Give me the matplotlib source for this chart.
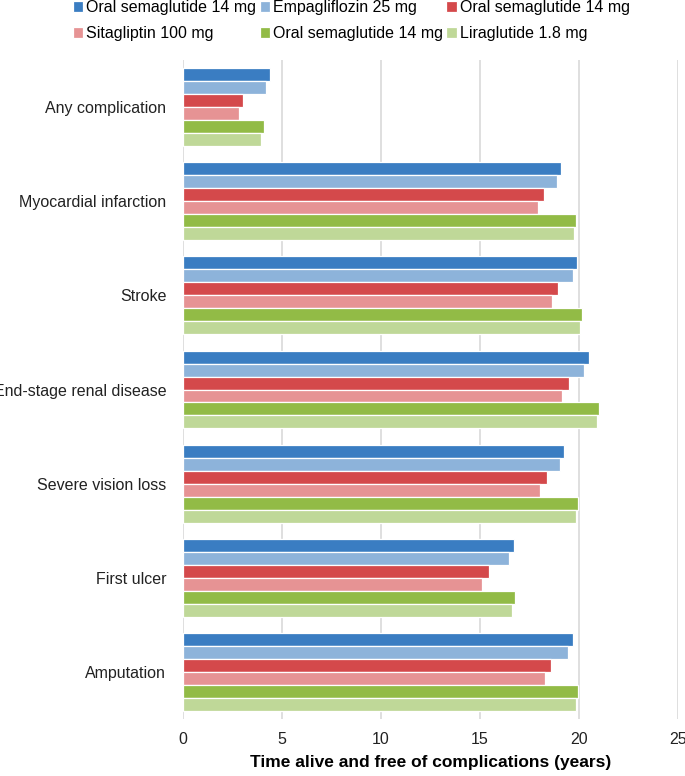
import matplotlib
matplotlib.use("Agg")
import matplotlib.pyplot as plt
import numpy as np

plt.rcParams['font.family'] = ['Liberation Sans', 'DejaVu Sans']

categories = ["Any complication", "Myocardial infarction", "Stroke",
              "End-stage renal disease", "Severe vision loss", "First ulcer", "Amputation"]
series_names = ["Oral semaglutide 14 mg", "Empagliflozin 25 mg", "Oral semaglutide 14 mg",
                "Sitagliptin 100 mg", "Oral semaglutide 14 mg", "Liraglutide 1.8 mg"]
sema_vs_empa = [4.38, 19.09, 19.92, 20.50, 19.26, 16.72, 19.68]
empagliflozin = [4.18, 18.89, 19.71, 20.27, 19.02, 16.46, 19.44]
sema_vs_sita = [3.03, 18.25, 18.94, 19.48, 18.40, 15.44, 18.59]
sitagliptin = [2.81, 17.93, 18.64, 19.14, 18.03, 15.08, 18.27]
sema_vs_lira = [4.08, 19.86, 20.17, 21.00, 19.95, 16.75, 19.95]
liraglutide = [3.94, 19.75, 20.03, 20.89, 19.83, 16.63, 19.83]
series = [sema_vs_empa, empagliflozin, sema_vs_sita, sitagliptin, sema_vs_lira, liraglutide]
colors = ["#3A7DC2", "#8DB3DA", "#D4494B", "#E69394", "#92BB46", "#BFD898"]
xticks = [0, 5, 10, 15, 20, 25]

fig = plt.figure(figsize=(6.85, 7.76), dpi=100)
ax = fig.add_axes([183/685, 1-719/776, (678-183)/685, (719-60)/776])

n = len(series)
slot = 0.138
y = np.arange(len(categories))
handles = []
for i, (vals, c, name) in enumerate(zip(series, colors, series_names)):
    off = (i - (n-1)/2) * slot
    h = ax.barh(y + off, vals, height=slot, color=c, edgecolor='white', linewidth=0.9, label=name, zorder=3)
    handles.append(h)

ax.set_ylim(len(categories)-0.5, -0.5)
ax.set_xlim(0, 25)
ax.set_xticks(xticks)
ax.set_xticklabels([str(t) for t in xticks], fontsize=11.5, color='#222222')
ax.set_yticks(y)
ax.set_yticklabels(categories, fontsize=11.5, color='#222222')
ax.tick_params(axis='both', length=0)
ax.tick_params(axis='x', pad=9)
ax.tick_params(axis='y', pad=12)
for s in ax.spines.values():
    s.set_visible(False)
ax.xaxis.grid(True, color='#D9D9D9', linewidth=1.2, zorder=0)
ax.set_axisbelow(True)
ax.set_xlabel("Time alive and free of complications (years)", fontsize=12.5, fontweight='bold', labelpad=6)

order = [0, 3, 1, 4, 2, 5]
leg = fig.legend([handles[k] for k in order], [series_names[k] for k in order],
                 ncol=3, loc='upper left', bbox_to_anchor=(0.097, 1.008), frameon=False,
                 fontsize=11.5, handlelength=0.65, handleheight=0.65, handletextpad=0.2,
                 columnspacing=0.2, labelspacing=0.68, borderaxespad=0)

fig.savefig("out.png", dpi=100)
